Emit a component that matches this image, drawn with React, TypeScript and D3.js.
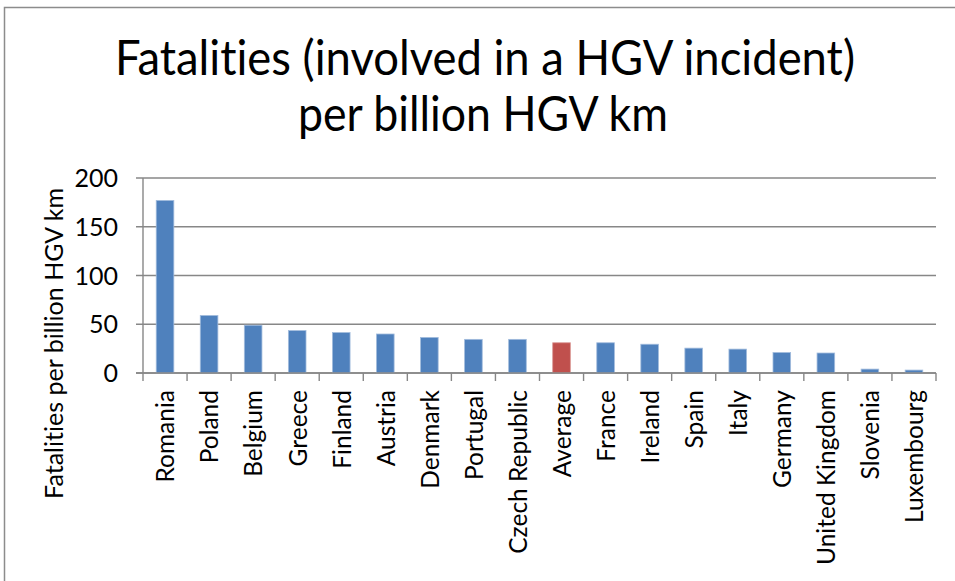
import React from "react";
import * as d3 from "d3";

const categories = [
  "Romania", "Poland", "Belgium", "Greece", "Finland", "Austria", "Denmark",
  "Portugal", "Czech Republic", "Average", "France", "Ireland", "Spain",
  "Italy", "Germany", "United Kingdom", "Slovenia", "Luxembourg",
];
const values = [177, 59, 49, 43.5, 41.5, 40, 36.5, 34.5, 34.5, 31, 31, 29.5, 25.5, 24.5, 21, 20.5, 4, 3];
const highlighted = ["Average"];
const yTicks = [0, 50, 100, 150, 200];
const titleLines = ["Fatalities (involved in a HGV incident)", "per billion HGV km"];
const yAxisTitle = "Fatalities per billion HGV km";

const W = 955;
const H = 581;
const plot = { left: 143, right: 936, top: 178, bottom: 373 };
const FONT = "Lato, 'Open Sans', sans-serif";

export default function App() {
  const x = d3
    .scaleBand<string>()
    .domain(categories)
    .range([plot.left, plot.right])
    .paddingInner(0.6)
    .paddingOuter(0.3);
  const y = d3.scaleLinear().domain([0, 200]).range([plot.bottom, plot.top]);
  const step = x.step();
  const boundaries = d3.range(categories.length + 1).map((i) => plot.left + i * step);

  return (
    <svg
      width={W}
      height={H}
      viewBox={`0 0 ${W} ${H}`}
      style={{ position: "absolute", left: 0, top: 0, background: "#fff", fontVariantLigatures: "none" }}
    >
      <rect x={0} y={0} width={W} height={H} fill="#fff" />
      <rect x={4.5} y={7.5} width={W + 20} height={H + 20} fill="none" stroke="#8c8c8c" strokeWidth={1.5} />

      <g fontFamily={FONT} fill="#000" textAnchor="middle">
        <text x={485} y={75} fontSize={49} textLength={740} lengthAdjust="spacingAndGlyphs">
          {titleLines[0]}
        </text>
        <text x={483} y={131} fontSize={49} textLength={370} lengthAdjust="spacingAndGlyphs">
          {titleLines[1]}
        </text>
      </g>

      {/* gridlines */}
      <g>
        {yTicks.map((t) => (
          <line
            key={t}
            x1={plot.left - 7}
            x2={plot.right}
            y1={y(t)}
            y2={y(t)}
            stroke="#878787"
            strokeWidth={1.4}
          />
        ))}
      </g>

      {/* bars */}
      <g>
        {categories.map((c, i) => (
          <rect
            key={c}
            x={x(c)}
            y={y(values[i])}
            width={x.bandwidth()}
            height={y(0) - y(values[i])}
            fill={highlighted.includes(c) ? "#C0504D" : "#4F81BD"}
            stroke={highlighted.includes(c) ? "#D99694" : "#A2BCDD"}
            strokeWidth={0.8}
          />
        ))}
      </g>

      {/* axes */}
      <line x1={plot.left} x2={plot.left} y1={plot.top} y2={plot.bottom} stroke="#878787" strokeWidth={1.4} />
      <line x1={plot.left - 7} x2={plot.right} y1={plot.bottom} y2={plot.bottom} stroke="#878787" strokeWidth={1.6} />
      {boundaries.map((bx, i) => (
        <line key={i} x1={bx} x2={bx} y1={plot.bottom} y2={plot.bottom + 8} stroke="#878787" strokeWidth={1.4} />
      ))}

      {/* y tick labels */}
      <g fontFamily={FONT} fontSize={25} textAnchor="end" fill="#000">
        {yTicks.map((t) => (
          <text key={t} x={118} y={y(t)} dy="0.36em">
            {t}
          </text>
        ))}
      </g>

      {/* y axis title */}
      <text
        transform={`translate(63,343.5) rotate(-90)`}
        fontFamily={FONT}
        fontSize={25}
        textAnchor="middle"
        textLength={311}
        lengthAdjust="spacingAndGlyphs"
      >
        {yAxisTitle}
      </text>

      {/* category labels */}
      <g fontFamily={FONT} fontSize={24.5} textAnchor="end" fill="#000">
        {categories.map((c) => (
          <text
            key={c}
            transform={`translate(${(x(c) ?? 0) + x.bandwidth() / 2},390) rotate(-90)`}
            dy="0.38em"
          >
            {c}
          </text>
        ))}
      </g>
    </svg>
  );
}
